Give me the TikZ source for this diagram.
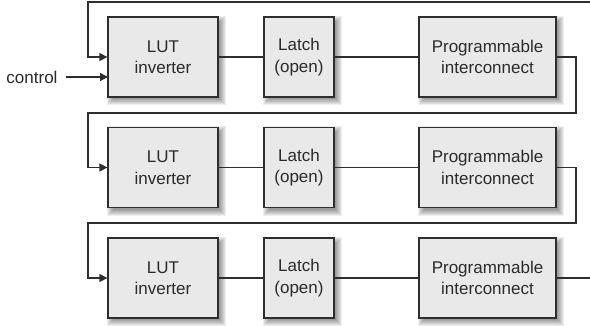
\documentclass[tikz,border=0pt]{standalone}
\usepackage{fontspec}
\setmainfont{Liberation Sans}
\usetikzlibrary{arrows.meta,calc,backgrounds}
\definecolor{ln}{HTML}{2E2E2E}
\definecolor{bx}{HTML}{E9E9E9}
\definecolor{tx}{HTML}{2A2A2A}
\begin{document}
\begin{tikzpicture}[x=1pt,y=-1pt,
  blk/.style={draw=ln,fill=bx,line width=1.3pt,text=tx,font=\fontsize{17}{21.5}\selectfont,align=center,inner sep=0pt,minimum height=80pt},
  lutbox/.style={blk,minimum width=110pt},
  latbox/.style={blk,minimum width=70pt},
  prgbox/.style={blk,minimum width=137pt},
  wire/.style={draw=ln,line width=1.3pt},
  arr/.style={wire,-{Triangle[length=8pt,width=8pt]}},
  lbl/.style={text=tx,font=\fontsize{17}{20}\selectfont,inner sep=2pt}]
\useasboundingbox (0,0) rectangle (590,325);
% row 1
\node[lutbox] (lut1) at (163,57) {LUT\\inverter};
\node[latbox] (lat1) at (299,57) {Latch\\(open)};
\node[prgbox] (prg1) at (487.5,57) {Programmable\\interconnect};
% row 2
\node[lutbox] (lut2) at (163,167.5) {LUT\\inverter};
\node[latbox] (lat2) at (299,167.5) {Latch\\(open)};
\node[prgbox] (prg2) at (487.5,167.5) {Programmable\\interconnect};
% row 3
\node[lutbox] (lut3) at (163,278) {LUT\\inverter};
\node[latbox] (lat3) at (299,278) {Latch\\(open)};
\node[prgbox] (prg3) at (487.5,278) {Programmable\\interconnect};
% control
\node[lbl] (ctl) at (32,77) {control};
\coordinate (ctlin) at (108,77);
\draw[arr] ([xshift=6pt]ctl.east) -- (ctlin);
% coordinates of loops
\coordinate (tr) at (590,2);
\coordinate (l0) at (88,2);
\coordinate (r1) at (576,113);
\coordinate (l1) at (88,113);
\coordinate (r2) at (576,223);
\coordinate (l2) at (88,223);
\coordinate (out3) at (590,278);
% wires
\draw[arr] (tr) -- (l0) |- (lut1.west);
\draw[wire] (lut1) -- (lat1);
\draw[wire] (lat1) -- (prg1);
\draw[arr] (prg1.east) -| (r1) -- (l1) |- (lut2.west);
\draw[wire] (lut2) -- (lat2);
\draw[wire] (lat2) -- (prg2);
\draw[arr] (prg2.east) -| (r2) -- (l2) |- (lut3.west);
\draw[wire] (lut3) -- (lat3);
\draw[wire] (lat3) -- (prg3);
\draw[wire] (prg3.east) -- (out3);
% shadows
\begin{pgfonlayer}{background}
\fill[white] (0,0) rectangle (590,325);
\foreach \n in {lut1,lat1,prg1,lut2,lat2,prg2,lut3,lat3,prg3}{
  \foreach \e in {-2,...,4}{
    \fill[black,opacity=0.065] ($(\n.north west)+(3.5-\e,3.5-\e)$) rectangle ($(\n.south east)+(3.5+\e,3.5+\e)$);
  }
}
\end{pgfonlayer}
\end{tikzpicture}
\end{document}
